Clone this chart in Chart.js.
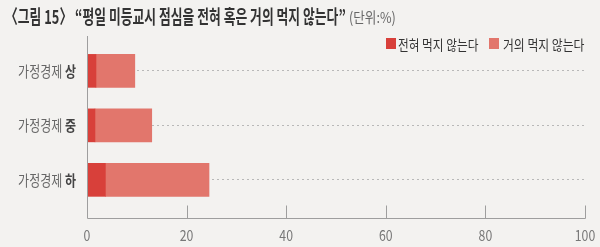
<!DOCTYPE html>
<html><head><meta charset="utf-8">
<script src="https://cdn.jsdelivr.net/npm/chart.js@4"></script>
<style>
html,body{margin:0;padding:0;background:#f3f2f0;}
#wrap{position:relative;width:600px;height:247px;overflow:hidden;background:#f3f2f0;}
#c{position:absolute;left:0;top:0;}
.fit{position:absolute;white-space:nowrap;font-family:'Noto Sans CJK KR','Noto Sans',sans-serif;transform-origin:0 0;line-height:1;}
#t1{left:5px;top:6px;font-size:19px;font-weight:700;color:#333;}
#t2{left:349px;top:9px;font-size:15px;color:#666;}
.sw{position:absolute;width:10px;height:11px;top:38px;}
.lg{top:37px;font-size:14px;color:#333;}
</style></head>
<body><div id="wrap">
<canvas id="c" width="600" height="247"></canvas>
<div id="t1" class="fit" data-w="341">〈그림 15〉 “평일 미등교시 점심을 전혀 혹은 거의 먹지 않는다”</div>
<div id="t2" class="fit" data-w="47">(단위:%)</div>
<div class="sw" id="sw0" style="left:386px"></div>
<div class="fit lg" id="lg0" style="left:398px" data-w="80"></div>
<div class="sw" id="sw1" style="left:489px"></div>
<div class="fit lg" id="lg1" style="left:503px" data-w="81"></div>
</div>
<script>
const categories = ['가정경제 상', '가정경제 중', '가정경제 하'];
const seriesNames = ['전혀 먹지 않는다', '거의 먹지 않는다'];
const notAtAll = [1.8, 1.6, 3.7];
const rarely = [7.8, 11.4, 20.8];
const xTicks = [0, 20, 40, 60, 80, 100];
const colors = ['#d8403a', '#e2766c'];

document.getElementById('lg0').textContent = seriesNames[0];
document.getElementById('lg1').textContent = seriesNames[1];
document.getElementById('sw0').style.background = colors[0];
document.getElementById('sw1').style.background = colors[1];
document.querySelectorAll('.fit').forEach(el => {
  const w = +el.dataset.w;
  el.style.transform = 'scaleX(' + (w / el.offsetWidth) + ')';
});

const SX = 0.8;
const AXIS = '#9e9e9e';
const deco = {
  id: 'deco',
  afterDatasetsDraw(chart) {
    const {ctx, chartArea: a, scales: {x, y}} = chart;
    ctx.save();
    ctx.setLineDash([]);
    ctx.globalAlpha = 1;
    ctx.strokeStyle = AXIS;
    ctx.lineWidth = 1;
    const L = Math.round(a.left) + 0.5, B = Math.round(a.bottom) + 0.5;
    ctx.beginPath();
    ctx.moveTo(L, a.top);
    ctx.lineTo(L, B);
    ctx.lineTo(Math.round(a.right) + 0.5, B);
    x.ticks.forEach(t => {
      if (t.value === 0) return;
      const px = Math.round(x.getPixelForValue(t.value)) + 0.5;
      ctx.moveTo(px, B);
      ctx.lineTo(px, B - 13);
    });
    ctx.stroke();
    // x tick labels
    ctx.fillStyle = '#777';
    ctx.font = '400 15px "Noto Sans CJK KR"';
    ctx.textAlign = 'center';
    ctx.textBaseline = 'middle';
    x.ticks.forEach(t => {
      ctx.save();
      ctx.translate(x.getPixelForValue(t.value), a.bottom + 17);
      ctx.scale(0.82, 1);
      ctx.fillText(String(t.value), 0, 0);
      ctx.restore();
    });
    // y category labels
    categories.forEach((c, i) => {
      const py = y.getPixelForValue(i);
      const k = c.lastIndexOf(' ');
      const pre = c.slice(0, k + 1), last = c.slice(k + 1);
      ctx.save();
      ctx.translate(a.left - 11, py);
      ctx.scale(SX, 1);
      ctx.textAlign = 'right';
      ctx.font = '700 15px "Noto Sans CJK KR"';
      const wl = ctx.measureText(last).width;
      ctx.fillStyle = '#444';
      ctx.fillText(last, 0, 0);
      ctx.font = '400 15px "Noto Sans CJK KR"';
      ctx.fillStyle = '#666';
      ctx.fillText(pre, -wl, 0);
      ctx.restore();
    });
    ctx.restore();
  }
};

new Chart(document.getElementById('c'), {
  type: 'bar',
  data: {
    datasets: [
      {label: seriesNames[0], data: notAtAll.map((v, i) => ({x: v, y: i})), backgroundColor: colors[0], barThickness: 33},
      {label: seriesNames[1], data: rarely.map((v, i) => ({x: v, y: i})), backgroundColor: colors[1], barThickness: 33}
    ]
  },
  options: {
    indexAxis: 'y',
    responsive: false,
    animation: false,
    layout: {padding: {left: 87, right: 15, top: 36, bottom: 29}},
    plugins: {legend: {display: false}, tooltip: {enabled: false}},
    scales: {
      x: {
        type: 'linear', min: 0, max: 100, stacked: true,
        afterBuildTicks: s => { s.ticks = xTicks.map(v => ({value: v})); },
        grid: {display: false, drawTicks: false},
        border: {display: false},
        ticks: {display: false}
      },
      y: {
        type: 'linear', reverse: true, min: -0.64, max: 2.7, stacked: true, offset: false,
        afterBuildTicks: s => { s.ticks = categories.map((c, i) => ({value: i})); },
        grid: {color: '#b8b8b8', drawTicks: false, lineWidth: 1, offset: false},
        border: {display: false, dash: [2, 3]},
        ticks: {display: false}
      }
    }
  },
  plugins: [deco]
});
</script>
</body></html>
